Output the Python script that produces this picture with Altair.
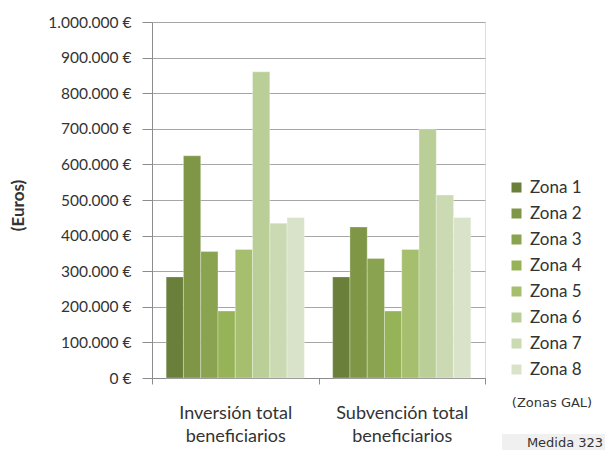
import altair as alt
import pandas as pd

groups = ["Inversión total beneficiarios", "Subvención total beneficiarios"]
zones = ["Zona 1", "Zona 2", "Zona 3", "Zona 4", "Zona 5", "Zona 6", "Zona 7", "Zona 8"]
inversion = [284000, 624000, 355000, 188000, 361000, 860000, 435000, 451000]
subvencion = [284000, 424000, 336000, 188000, 361000, 699000, 514000, 451000]
colors = ["#6a7f3a", "#7e9645", "#89a351", "#96b358", "#a5bf6e", "#bacf97", "#cbdab3", "#d9e3ca"]
y_ticks = [0, 100000, 200000, 300000, 400000, 500000, 600000, 700000, 800000, 900000, 1000000]
note_text = ["(Zonas GAL)"]
badge_text = ["Medida 323"]

rows = []
for g, vals in zip(groups, [inversion, subvencion]):
    for z, v in zip(zones, vals):
        rows.append({"grupo": g, "zona": z, "valor": v})
df = pd.DataFrame(rows)

FONT = "Lato"

bars = alt.Chart(df).mark_bar(stroke="#ffffff", strokeOpacity=0.5, strokeWidth=0.6).encode(
    x=alt.X(
        "grupo:N", sort=groups,
        scale=alt.Scale(paddingInner=0, paddingOuter=0),
        axis=alt.Axis(
            title=None, labelAngle=0, tickBand="extent", tickSize=6,
            tickColor="#8c8c8c", domainColor="#8c8c8c",
            labelExpr="datum.label ? [replace(datum.label, ' beneficiarios', ''), 'beneficiarios'] : ''",
            labelFontSize=18, labelFont=FONT, labelColor="#333333",
            labelLineHeight=23, labelPadding=29, labelBaseline="middle",
        ),
    ),
    xOffset=alt.XOffset("zona:N", sort=zones, scale=alt.Scale(paddingInner=0, paddingOuter=0.82)),
    y=alt.Y(
        "valor:Q",
        scale=alt.Scale(domain=[0, 1000000], nice=False),
        axis=alt.Axis(
            values=y_ticks,
            labelExpr="replace(format(datum.value, ','), regexp(',', 'g'), '.') + ' €'",
            title="(Euros)", titleAngle=-90, titleX=-134, titleY=183,
            titleAlign="center", titleBaseline="middle",
            titleFont=FONT, titleFontSize=17, titleFontWeight="bold", titleColor="#333333",
            labelFont=FONT, labelFontSize=15.5, labelColor="#333333",
            tickSize=10, labelPadding=11, tickColor="#8c8c8c", domainColor="#8c8c8c",
            grid=True, gridColor="#a6a6a6", gridWidth=1,
        ),
    ),
    color=alt.Color(
        "zona:N", sort=zones,
        scale=alt.Scale(domain=zones, range=colors),
        legend=alt.Legend(
            title=None, orient="none", legendX=356, legendY=157,
            symbolType="square", symbolSize=100, symbolStrokeWidth=0,
            labelFont=FONT, labelFontSize=17, labelColor="#333333",
            labelOffset=5, rowPadding=8,
        ),
    ),
)

note = alt.Chart(pd.DataFrame({"t": note_text})).mark_text(
    font="DejaVu Sans", fontSize=13, color="#333333", align="center", baseline="middle"
).encode(text="t:N", x=alt.value(400), y=alt.value(381))

badge_box = alt.Chart(pd.DataFrame({"t": badge_text})).mark_rect(color="#f0f0f0").encode(
    x=alt.value(350), x2=alt.value(470), y=alt.value(412), y2=alt.value(440)
)

badge = alt.Chart(pd.DataFrame({"t": badge_text})).mark_text(
    font="DejaVu Sans", fontSize=13, color="#333333", align="center", baseline="middle"
).encode(text="t:N", x=alt.value(413), y=alt.value(421))

chart = alt.layer(bars, note, badge_box, badge).properties(
    width=333, height=356,
    autosize=alt.AutoSizeParams(type="none"),
    padding={"left": 144, "top": 14, "right": 120, "bottom": 72},
).configure_view(stroke=None).configure(background="#ffffff")

chart.save("out.html", embed_options={"renderer": "svg", "actions": False})
